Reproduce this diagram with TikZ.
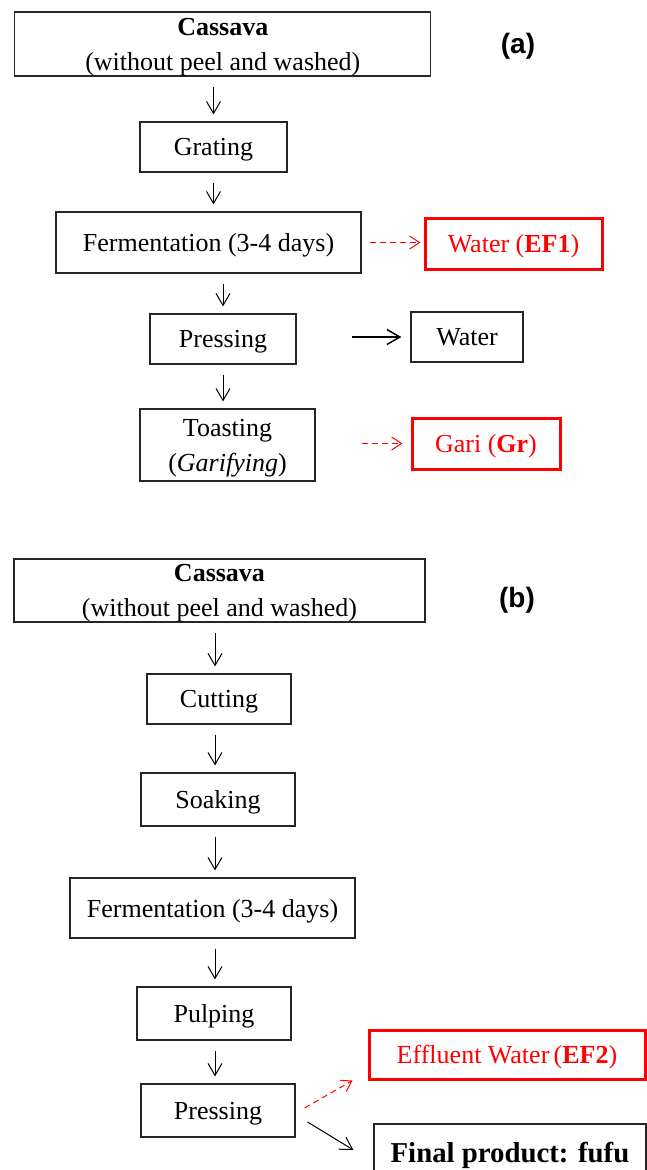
\documentclass[tikz,border=0pt]{standalone}
\usepackage{fontspec}
\setmainfont{Liberation Serif}
\newfontfamily\panelfont{Liberation Sans}
\usepackage{tikz}
\usetikzlibrary{arrows.meta, positioning, calc}
\definecolor{effred}{HTML}{FF0000}
\tikzset{
  blk/.style={rectangle, draw=black!85, line width=1.2pt, align=center, font=\fontsize{26}{35}\selectfont, inner sep=0pt, text depth=0pt},
  stepbox/.style={blk},
  outbox/.style={blk, draw=effred, text=effred, line width=3pt},
  panel/.style={font=\panelfont\bfseries\fontsize{28}{30}\selectfont},
  arr/.style={-{Straight Barb[length=12pt,width=14pt]}, line width=1pt, draw=black},
  down/.style={arr, shorten <=10pt, shorten >=7pt},
  arrthick/.style={-{Straight Barb[length=13pt,width=15pt]}, line width=1.5pt, draw=black},
  arrdash/.style={-{Straight Barb[length=10pt,width=13pt]}, line width=1pt, draw=effred, dash pattern=on 6pt off 4pt},
}

\begin{document}
\begin{tikzpicture}[x=1pt, y=-1pt]
  \path[use as bounding box, clip] (0,0) rectangle (647,1170);
  % (a) gari
  \node[panel] (tagA) at (518,46) {(a)};
  \node[stepbox, minimum width=416pt, minimum height=64pt] (cassA) at (222.8,44) {\textbf{Cassava}\\(without peel and washed)};
  \node[stepbox, minimum width=147pt, minimum height=50pt] (grate) at (213.5,147) {Grating};
  \node[stepbox, minimum width=305pt, minimum height=61pt] (fermA) at (208.5,242.5) {Fermentation (3-4 days)};
  \node[outbox, minimum width=177pt, minimum height=51pt] (efA) at (513.5,243.5) {Water (\textbf{EF1})};
  \node[stepbox, minimum width=146pt, minimum height=50pt] (pressA) at (223,339) {Pressing};
  \node[stepbox, minimum width=112pt, minimum height=50pt] (waterA) at (467,337) {Water};
  \node[stepbox, minimum width=175pt, minimum height=72pt] (toast) at (227.5,445) {Toasting\\(\textit{Garifying})};
  \node[outbox, minimum width=148pt, minimum height=51pt] (gari) at (486,443.5) {Gari (\textbf{Gr})};
  \draw[down] (grate.north |- cassA.south) -- (grate.north);
  \draw[down] (grate.south) -- (grate.south |- fermA.north);
  \draw[down] (pressA.north |- fermA.south) -- (pressA.north);
  \draw[down] (pressA.south) -- (pressA.south |- toast.north);
  \draw[arrdash, shorten <=8pt, shorten >=3pt] (fermA.east) -- (fermA.east -| efA.west);
  \draw[arrthick, shorten <=55pt, shorten >=9pt] (waterA.west -| pressA.east) -- (waterA.west);
  \draw[arrdash, shorten <=46pt, shorten >=8pt] (gari.west -| toast.east) -- (gari.west);
  % (b) fufu
  \coordinate (spineB) at (215,0);
  \node[panel] (tagB) at (517,600) {(b)};
  \node[stepbox, minimum width=411pt, minimum height=63pt] (cassB) at (219.5,590.5) {\textbf{Cassava}\\(without peel and washed)};
  \node[stepbox, minimum width=144pt, minimum height=50pt] (cut) at (219,699) {Cutting};
  \node[stepbox, minimum width=154pt, minimum height=53pt] (soak) at (218,799.5) {Soaking};
  \node[stepbox, minimum width=285pt, minimum height=60pt] (fermB) at (212.5,908) {Fermentation (3-4 days)};
  \node[stepbox, minimum width=154pt, minimum height=53pt] (pulp) at (214,1013.5) {Pulping};
  \node[stepbox, minimum width=154pt, minimum height=53pt] (pressB) at (218,1110.5) {Pressing};
  \node[outbox, minimum width=276pt, minimum height=49pt] (efB) at (507,1054.5) {Effluent Water\,(\textbf{EF2})};
  \node[stepbox, minimum width=272pt, minimum height=56pt, font=\bfseries\fontsize{28.8}{32}\selectfont] (fufu) at (510,1152) {Final product: fufu};
  \draw[down] (spineB |- cassB.south) -- (spineB |- cut.north);
  \draw[down] (spineB |- cut.south) -- (spineB |- soak.north);
  \draw[down] (spineB |- soak.south) -- (spineB |- fermB.north);
  \draw[down] (spineB |- fermB.south) -- (spineB |- pulp.north);
  \draw[down] (spineB |- pulp.south) -- (spineB |- pressB.north);
  \draw[arrdash] ([shift={(9,-2.5)}]pressB.east) -- ([shift={(-15,0)}]efB.south west);
  \draw[arr] ([shift={(12,11.5)}]pressB.east) -- ([shift={(-20,-2)}]fufu.west);
\end{tikzpicture}
\end{document}
